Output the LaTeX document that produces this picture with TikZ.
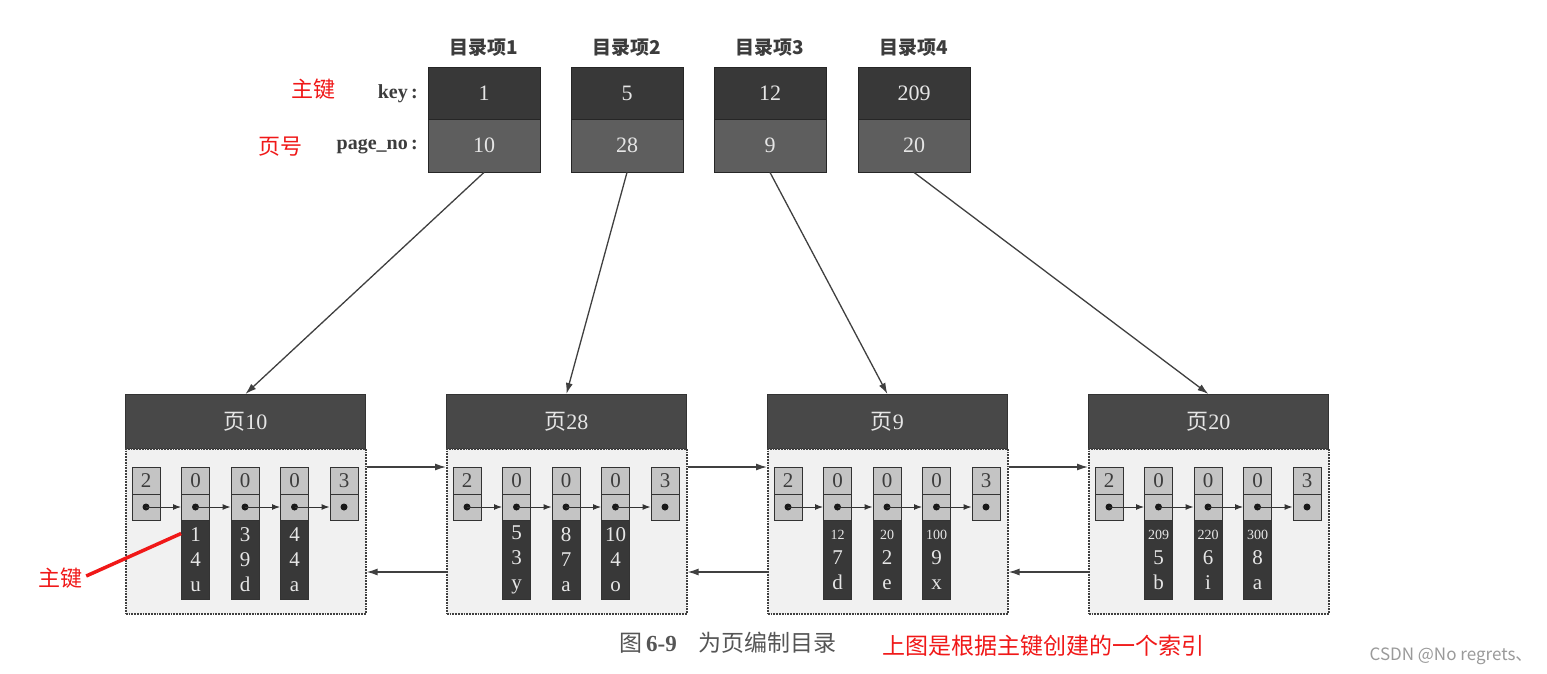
\documentclass[tikz,border=0pt]{standalone}
\usepackage{fontspec}
\setmainfont{Liberation Serif}
\newfontfamily\cjk{Noto Sans CJK SC}
\usetikzlibrary{arrows.meta}
\definecolor{kdark}{HTML}{383838}
\definecolor{kmid}{HTML}{5E5E5E}
\definecolor{hdark}{HTML}{484848}
\definecolor{bodyfill}{HTML}{F1F1F1}
\definecolor{cellgray}{HTML}{C4C4C4}
\definecolor{coldark}{HTML}{383838}
\definecolor{lightt}{HTML}{E6E6E6}
\definecolor{inkc}{HTML}{3C3C3C}
\definecolor{redc}{HTML}{F01818}
\definecolor{capgray}{HTML}{555555}
\definecolor{wmgray}{HTML}{9A9A9A}
\tikzset{
  keybox/.style={draw=black!85, line width=0.8pt, fill=kdark, minimum width=112pt, minimum height=52pt, inner sep=0pt, text=lightt, font=\fontsize{22}{26}\selectfont},
  pnbox/.style={keybox, fill=kmid, minimum height=53pt},
  toplbl/.style={inner sep=0pt, text=inkc, font=\cjk\bfseries\fontsize{19}{22}\selectfont},
  sidelbl/.style={inner sep=0pt, text=inkc, anchor=east, font=\bfseries\fontsize{20}{24}\selectfont},
  redlbl/.style={inner sep=0pt, text=redc, font=\cjk\fontsize{22}{26}\selectfont},
  pagehead/.style={draw=black!80, line width=0.8pt, fill=hdark, anchor=north west, minimum width=240pt, minimum height=54pt, inner sep=0pt, text=lightt, font=\fontsize{22}{26}\selectfont},
  pagebody/.style={draw=black!75, line width=1.6pt, dash pattern=on 1.8pt off 1pt, fill=bodyfill, anchor=north west, minimum width=240pt, minimum height=165pt, inner sep=0pt},
  numbox/.style={draw=black!80, line width=1pt, fill=cellgray, minimum width=28pt, minimum height=27pt, inner sep=0pt, text=inkc, font=\fontsize{21}{24}\selectfont},
  ptrbox/.style={numbox, minimum height=26pt},
  datacol/.style={draw=black!80, line width=0.8pt, fill=coldark, minimum width=28pt, minimum height=79pt, text width=28pt, align=center, inner sep=0pt, text=lightt, font=\fontsize{21}{25}\selectfont},
  dotnode/.style={circle, fill=black!90, minimum size=7pt, inner sep=0pt},
  ptr/.style={draw=black!80, line width=1pt, -{Latex[length=8pt,width=6pt]}},
  link/.style={draw=black!75, line width=1.3pt, -{Latex[length=11pt,width=7pt]}},
}
\newcommand{\smn}[1]{{\fontsize{14}{25}\selectfont #1}}
\begin{document}
\begin{tikzpicture}[x=1pt,y=-1pt]
\useasboundingbox (0,0) rectangle (1547,674);
\fill[white] (0,0) rectangle (1547,674);

% directory entries
\foreach \p/\cx/\k/\n in {1/484/1/10, 2/627/5/28, 3/770/12/9, 4/914/209/20}{
  \node[toplbl] (m\p) at (\cx,48) {目录项\p};
  \node[keybox] (k\p) at (\cx,93) {\k};
  \node[pnbox] (p\p) at (\cx,145.5) {\n};
}
\node[sidelbl] (keyl) at (418,94) {key\,:};
\node[sidelbl] (pnl) at (418,147) {page\_no\,:};
\node[redlbl] (zj1) at (313,89) {主键};
\node[redlbl] (yh) at (280,147) {页号};

% pages
\foreach \p/\name in {1/10, 2/28, 3/9, 4/20}{
  \pgfmathsetmacro{\L}{125+321*(\p-1)}
  \node[pagehead] (h\p) at (\L,394) {{\cjk 页}\name};
  \node[pagebody] (b\p) at (\L,448) {};
  \foreach \i/\n in {0/2,1/0,2/0,3/0,4/3}{
    \node[numbox] (t\p-\i) at ({\L+21+49.5*\i},480.5) {\n};
    \node[ptrbox] (q\p-\i) at ({\L+21+49.5*\i},507) {};
    \node[dotnode] (o\p-\i) at (q\p-\i.center) {};
  }
  \foreach \i [evaluate=\i as \j using int(\i+1)] in {0,1,2,3}{
    \draw[ptr] (o\p-\i.center) -- (q\p-\j.west);
  }
}

% record data
\foreach \p/\i/\x/\y/\z in {
  1/1/1/4/u, 1/2/3/9/d, 1/3/4/4/a,
  2/1/5/3/y, 2/2/8/7/a, 2/3/10/4/o,
  3/1/\smn{12}/7/d, 3/2/\smn{20}/2/e, 3/3/\smn{100}/9/x,
  4/1/\smn{209}/5/b, 4/2/\smn{220}/6/i, 4/3/\smn{300}/8/a}{
  \node[datacol] (v\p-\i) at ({125+321*(\p-1)+21+49.5*\i},559.5) {\x\\\y\\\z};
}

% links between pages
\foreach \p [evaluate=\p as \q using int(\p+1)] in {1,2,3}{
  \draw[link] ([yshift=-19pt]b\p.north east) -- ([yshift=-19pt]b\q.north west);
  \draw[link] ([yshift=-124pt]b\q.north west) -- ([yshift=-124pt]b\p.north east);
}

% directory to pages
\foreach \p in {1,2,3,4}{
  \draw[link] (p\p.south) -- (h\p.north);
}

% red annotation
\node[redlbl] (zj2) at (60,578) {主键};
\draw[redc, line width=3.5pt] ([xshift=4pt,yshift=2pt]zj2.east) -- ([yshift=26pt]v1-1.west);

% captions
\node[inner sep=0pt, text=capgray, font=\cjk\fontsize{23}{26}\selectfont] (cap) at (728,643) {图\,{\rmfamily\bfseries 6-9}\hspace{22pt}为页编制目录};
\node[inner sep=0pt, text=redc, font=\cjk\fontsize{23}{26}\selectfont] (cap2) at (1043,646) {上图是根据主键创建的一个索引};
\node[inner sep=0pt, text=wmgray, font=\cjk\fontsize{17}{20}\selectfont] (wm) at (1451,656) {CSDN @No regrets、};
\end{tikzpicture}
\end{document}
